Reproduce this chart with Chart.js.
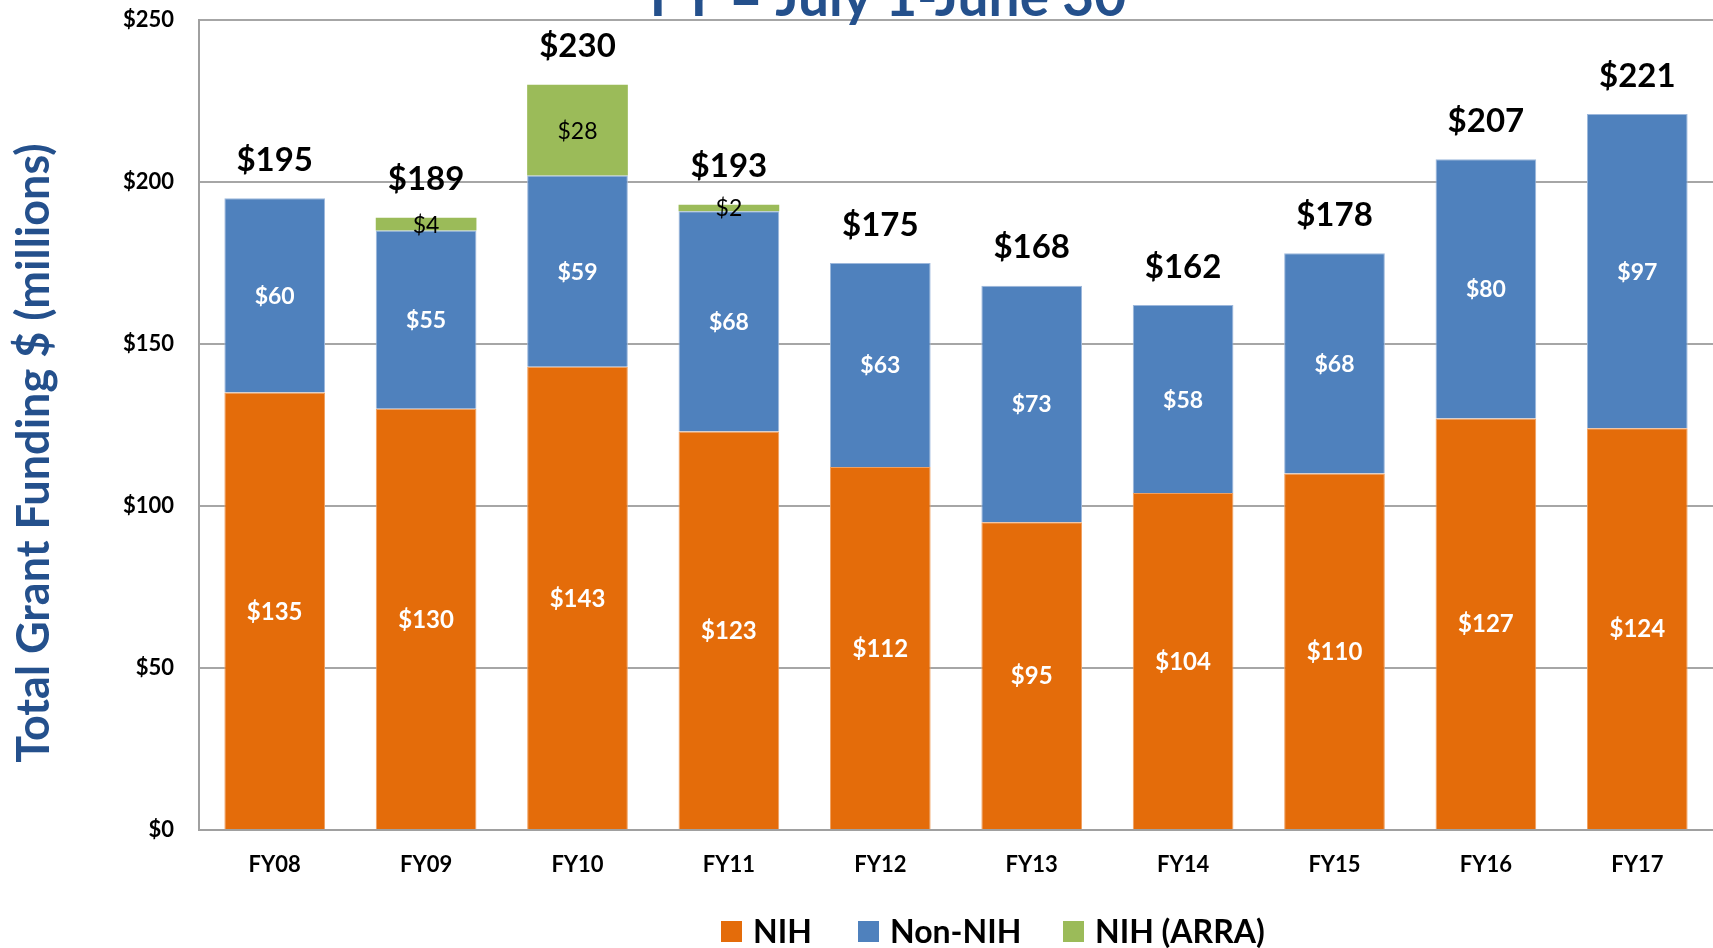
<!DOCTYPE html>
<html>
<head>
<meta charset="utf-8">
<script src="https://cdn.jsdelivr.net/npm/chart.js@4/dist/chart.umd.min.js"></script>
<style>
html,body{margin:0;padding:0;background:#fff;overflow:hidden;}
#wrap{width:1713px;height:948px;position:relative;}
</style>
</head>
<body>
<div id="wrap"><canvas id="c" width="1713" height="948"></canvas></div>
<script>
const categories = ['FY08','FY09','FY10','FY11','FY12','FY13','FY14','FY15','FY16','FY17'];
const nihValues    = [135,130,143,123,112, 95,104,110,127,124];
const nonNihValues = [ 60, 55, 59, 68, 63, 73, 58, 68, 80, 97];
const arraValues   = [  0,  4, 28,  2,  0,  0,  0,  0,  0,  0];
const yTickValues  = [0,50,100,150,200,250];
const seriesNames  = ['NIH','Non-NIH','NIH (ARRA)'];
const chartTitle   = 'FY = July 1-June 30';
const yAxisTitle   = 'Total Grant Funding $ (millions)';

const FONT = 'Lato, "Open Sans", sans-serif';
const BLUE_TXT = '#24508C';
const LEGEND_X = [721, 858, 1063];

const labelPlugin = {
  id: 'labels',
  afterDatasetsDraw(chart) {
    const ctx = chart.ctx;
    ctx.save();
    ctx.textAlign = 'center';
    ctx.textBaseline = 'middle';
    chart.data.datasets.forEach((ds, di) => {
      const meta = chart.getDatasetMeta(di);
      meta.data.forEach((el, i) => {
        const v = ds.data[i];
        if (!v) return;
        const p = el.getProps(['x','y','base'], true);
        const cy = (p.y + p.base) / 2;
        if (di === 2) {
          ctx.fillStyle = '#000';
          ctx.font = '23px ' + FONT;
          ctx.fillText('$' + v, p.x, cy + 1);
        } else {
          ctx.fillStyle = '#fff';
          ctx.font = 'bold ' + (di === 0 ? 24 : 23) + 'px ' + FONT;
          ctx.fillText('$' + v, p.x, cy + 1);
        }
      });
    });
    const y = chart.scales.y;
    const meta0 = chart.getDatasetMeta(0);
    ctx.fillStyle = '#000';
    ctx.font = 'bold 33px ' + FONT;
    categories.forEach((c, i) => {
      const total = nihValues[i] + nonNihValues[i] + arraValues[i];
      const x = meta0.data[i].x;
      ctx.fillText('$' + total, x, y.getPixelForValue(total) - 38);
    });
    ctx.restore();
  },
  afterDraw(chart) {
    const ctx = chart.ctx;
    ctx.save();
    ctx.fillStyle = BLUE_TXT;
    ctx.font = 'bold 55px ' + FONT;
    ctx.textAlign = 'center';
    ctx.textBaseline = 'alphabetic';
    ctx.fillText(chartTitle, 888, 16);
    ctx.save();
    ctx.translate(34, 453);
    ctx.rotate(-Math.PI / 2);
    ctx.font = 'bold 45px ' + FONT;
    ctx.textBaseline = 'middle';
    ctx.fillText(yAxisTitle, 0, 0);
    ctx.restore();
    ctx.font = 'bold 32px ' + FONT;
    ctx.textAlign = 'left';
    ctx.textBaseline = 'middle';
    const cy = 931.5;
    chart.data.datasets.forEach((ds, i) => {
      const x = LEGEND_X[i];
      ctx.fillStyle = ds.backgroundColor;
      ctx.fillRect(x, cy - 10.5, 21, 21);
      ctx.fillStyle = '#000';
      ctx.fillText(ds.label, x + 32, cy + 1);
    });
    ctx.restore();
  }
};

new Chart(document.getElementById('c'), {
  type: 'bar',
  data: {
    labels: categories,
    datasets: [
      { label: seriesNames[0], data: nihValues, backgroundColor: '#E46C0A', borderColor: '#F0A060', borderWidth: 1 },
      { label: seriesNames[1], data: nonNihValues, backgroundColor: '#4F81BD', borderColor: '#9DB8DC', borderWidth: 1 },
      { label: seriesNames[2], data: arraValues, backgroundColor: '#9BBB59', borderColor: '#C3D89A', borderWidth: 0 }
    ]
  },
  options: {
    responsive: false,
    animation: false,
    devicePixelRatio: 1,
    layout: { padding: { top: 20, left: 0, right: 0, bottom: 0 } },
    plugins: { legend: { display: false }, tooltip: { enabled: false }, title: { display: false } },
    datasets: { bar: { categoryPercentage: 1.0, barPercentage: 0.665 } },
    scales: {
      x: {
        stacked: true,
        grid: { display: false, drawTicks: false },
        border: { display: true, color: '#A0A0A0', width: 2 },
        ticks: { color: '#000', font: { family: FONT, weight: 'bold', size: 22 }, padding: 22 },
        afterFit(s) { s.height = 118; s.paddingLeft = 0; s.paddingRight = 0; }
      },
      y: {
        stacked: true,
        min: 0, max: 250,
        afterBuildTicks(s) { s.ticks = yTickValues.map(v => ({ value: v })); },
        grid: { color: '#A6A6A6', lineWidth: 2, drawTicks: false },
        border: { display: true, color: '#A0A0A0', width: 2 },
        ticks: { color: '#000', font: { family: FONT, weight: 'bold', size: 22 }, padding: 25,
                 callback: v => '$' + v },
        afterFit(s) { s.width = 199; s.paddingTop = 0; s.paddingBottom = 0; }
      }
    }
  },
  plugins: [labelPlugin]
});
</script>
</body>
</html>
